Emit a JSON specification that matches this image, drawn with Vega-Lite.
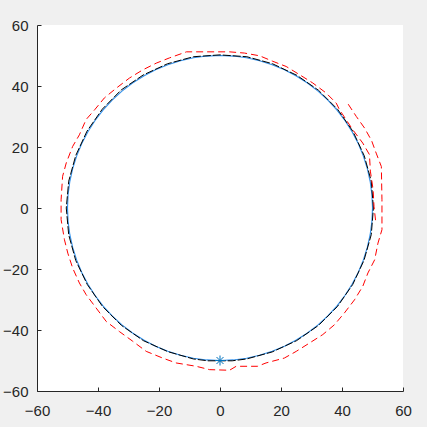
{
  "$schema": "https://vega.github.io/schema/vega-lite/v6.json",
  "width": 366,
  "height": 366,
  "autosize": {"type": "none"},
  "padding": {"left": 37, "top": 25, "right": 24, "bottom": 36},
  "background": "#f0f0f0",
  "config": {
    "view": {"fill": "white", "stroke": null},
    "axis": {
      "grid": false,
      "title": null,
      "domainColor": "#262626",
      "tickColor": "#262626",
      "labelColor": "#262626",
      "labelFont": "Liberation Sans",
      "labelFontSize": 15,
      "tickSize": -4,
      "domainWidth": 1,
      "tickWidth": 1,
      "labelFlush": false,
      "labelOverlap": false
    },
    "axisX": {"labelPadding": 16},
    "axisY": {"labelPadding": 13}
  },
  "datasets": {
    "circle": [
      {"i": 0, "x": 50, "y": 0}, {"i": 1, "x": 49.81, "y": 4.36}, {"i": 2, "x": 49.24, "y": 8.68}, {"i": 3, "x": 48.3, "y": 12.94},
      {"i": 4, "x": 46.98, "y": 17.1}, {"i": 5, "x": 45.32, "y": 21.13}, {"i": 6, "x": 43.3, "y": 25}, {"i": 7, "x": 40.96, "y": 28.68},
      {"i": 8, "x": 38.3, "y": 32.14}, {"i": 9, "x": 35.36, "y": 35.36}, {"i": 10, "x": 32.14, "y": 38.3}, {"i": 11, "x": 28.68, "y": 40.96},
      {"i": 12, "x": 25, "y": 43.3}, {"i": 13, "x": 21.13, "y": 45.32}, {"i": 14, "x": 17.1, "y": 46.98}, {"i": 15, "x": 12.94, "y": 48.3},
      {"i": 16, "x": 8.68, "y": 49.24}, {"i": 17, "x": 4.36, "y": 49.81}, {"i": 18, "x": 0, "y": 50},
      {"i": 19, "x": -4.36, "y": 49.81}, {"i": 20, "x": -8.68, "y": 49.24}, {"i": 21, "x": -12.94, "y": 48.3}, {"i": 22, "x": -17.1, "y": 46.98},
      {"i": 23, "x": -21.13, "y": 45.32}, {"i": 24, "x": -25, "y": 43.3}, {"i": 25, "x": -28.68, "y": 40.96}, {"i": 26, "x": -32.14, "y": 38.3},
      {"i": 27, "x": -35.36, "y": 35.36}, {"i": 28, "x": -38.3, "y": 32.14}, {"i": 29, "x": -40.96, "y": 28.68}, {"i": 30, "x": -43.3, "y": 25},
      {"i": 31, "x": -45.32, "y": 21.13}, {"i": 32, "x": -46.98, "y": 17.1}, {"i": 33, "x": -48.3, "y": 12.94}, {"i": 34, "x": -49.24, "y": 8.68},
      {"i": 35, "x": -49.81, "y": 4.36}, {"i": 36, "x": -50, "y": 0},
      {"i": 37, "x": -49.81, "y": -4.36}, {"i": 38, "x": -49.24, "y": -8.68}, {"i": 39, "x": -48.3, "y": -12.94}, {"i": 40, "x": -46.98, "y": -17.1},
      {"i": 41, "x": -45.32, "y": -21.13}, {"i": 42, "x": -43.3, "y": -25}, {"i": 43, "x": -40.96, "y": -28.68}, {"i": 44, "x": -38.3, "y": -32.14},
      {"i": 45, "x": -35.36, "y": -35.36}, {"i": 46, "x": -32.14, "y": -38.3}, {"i": 47, "x": -28.68, "y": -40.96}, {"i": 48, "x": -25, "y": -43.3},
      {"i": 49, "x": -21.13, "y": -45.32}, {"i": 50, "x": -17.1, "y": -46.98}, {"i": 51, "x": -12.94, "y": -48.3}, {"i": 52, "x": -8.68, "y": -49.24},
      {"i": 53, "x": -4.36, "y": -49.81}, {"i": 54, "x": 0, "y": -50},
      {"i": 55, "x": 4.36, "y": -49.81}, {"i": 56, "x": 8.68, "y": -49.24}, {"i": 57, "x": 12.94, "y": -48.3}, {"i": 58, "x": 17.1, "y": -46.98},
      {"i": 59, "x": 21.13, "y": -45.32}, {"i": 60, "x": 25, "y": -43.3}, {"i": 61, "x": 28.68, "y": -40.96}, {"i": 62, "x": 32.14, "y": -38.3},
      {"i": 63, "x": 35.36, "y": -35.36}, {"i": 64, "x": 38.3, "y": -32.14}, {"i": 65, "x": 40.96, "y": -28.68}, {"i": 66, "x": 43.3, "y": -25},
      {"i": 67, "x": 45.32, "y": -21.13}, {"i": 68, "x": 46.98, "y": -17.1}, {"i": 69, "x": 48.3, "y": -12.94}, {"i": 70, "x": 49.24, "y": -8.68},
      {"i": 71, "x": 49.81, "y": -4.36}, {"i": 72, "x": 50, "y": 0}
    ],
    "track": [
      {"i": 0, "x": 50.3, "y": 0}, {"i": 1, "x": 49.6, "y": 8.8}, {"i": 2, "x": 47.3, "y": 17.1}, {"i": 3, "x": 43.6, "y": 25.1},
      {"i": 4, "x": 38.6, "y": 32.3}, {"i": 5, "x": 32.3, "y": 38.6}, {"i": 6, "x": 25.2, "y": 43.5}, {"i": 7, "x": 17.2, "y": 47.3},
      {"i": 8, "x": 8.8, "y": 49.6}, {"i": 9, "x": 0, "y": 50.2}, {"i": 10, "x": -8.7, "y": 49.6}, {"i": 11, "x": -17.2, "y": 47.3},
      {"i": 12, "x": -25.2, "y": 43.6}, {"i": 13, "x": -32.4, "y": 38.7}, {"i": 14, "x": -38.6, "y": 32.4}, {"i": 15, "x": -43.6, "y": 25.2},
      {"i": 16, "x": -47.3, "y": 17.2}, {"i": 17, "x": -49.6, "y": 8.8}, {"i": 18, "x": -50.4, "y": 0}, {"i": 19, "x": -49.6, "y": -8.8},
      {"i": 20, "x": -47.3, "y": -17.2}, {"i": 21, "x": -43.5, "y": -25.1}, {"i": 22, "x": -38.5, "y": -32.3}, {"i": 23, "x": -32.3, "y": -38.5},
      {"i": 24, "x": -25.1, "y": -43.5}, {"i": 25, "x": -17.1, "y": -47.1}, {"i": 26, "x": -8.7, "y": -49.5}, {"i": 27, "x": -4, "y": -50.1},
      {"i": 28, "x": 4, "y": -50.1}, {"i": 29, "x": 8.7, "y": -49.5}, {"i": 30, "x": 17.1, "y": -47.2}, {"i": 31, "x": 25.1, "y": -43.5},
      {"i": 32, "x": 32.3, "y": -38.5}, {"i": 33, "x": 38.5, "y": -32.3}, {"i": 34, "x": 43.5, "y": -25.1}, {"i": 35, "x": 47.2, "y": -17.2},
      {"i": 36, "x": 49.6, "y": -8.7}, {"i": 37, "x": 50.3, "y": 0}
    ],
    "bound": [
      {"i": 0, "x": 51, "y": -4}, {"i": 1, "x": 50.5, "y": 0.4}, {"i": 2, "x": 50.2, "y": 6}, {"i": 3, "x": 49.3, "y": 12.1},
      {"i": 4, "x": 49, "y": 17.5}, {"i": 5, "x": 46.8, "y": 21.3}, {"i": 6, "x": 43.5, "y": 25.7}, {"i": 7, "x": 39.2, "y": 32.2},
      {"i": 8, "x": 38.1, "y": 34.4}, {"i": 9, "x": 34.8, "y": 37.7}, {"i": 10, "x": 30.4, "y": 41}, {"i": 11, "x": 26.1, "y": 43.7},
      {"i": 12, "x": 21.7, "y": 46.4}, {"i": 13, "x": 17.3, "y": 48.1}, {"i": 14, "x": 13, "y": 49.9}, {"i": 15, "x": 8, "y": 50.8},
      {"i": 16, "x": 3.1, "y": 51.2}, {"i": 17, "x": -11, "y": 51.2}, {"i": 18, "x": -16.6, "y": 49.2}, {"i": 19, "x": -20.9, "y": 47.5},
      {"i": 20, "x": -25.3, "y": 45.3}, {"i": 21, "x": -29.7, "y": 42.6}, {"i": 22, "x": -34, "y": 39.3}, {"i": 23, "x": -37.9, "y": 36.1},
      {"i": 24, "x": -41.1, "y": 32.2}, {"i": 25, "x": -43.9, "y": 29}, {"i": 26, "x": -46.1, "y": 24}, {"i": 27, "x": -48.3, "y": 20.2},
      {"i": 28, "x": -50.4, "y": 14.8}, {"i": 29, "x": -51.6, "y": 10.4}, {"i": 30, "x": -52.1, "y": 2.7}, {"i": 31, "x": -52.1, "y": -3.8},
      {"i": 32, "x": -51, "y": -10.4}, {"i": 33, "x": -49.9, "y": -14.8}, {"i": 34, "x": -48.3, "y": -19.7}, {"i": 35, "x": -46.1, "y": -24.6},
      {"i": 36, "x": -43.9, "y": -28.4}, {"i": 37, "x": -40.6, "y": -32.8}, {"i": 38, "x": -37.3, "y": -37.2}, {"i": 39, "x": -33, "y": -40.5},
      {"i": 40, "x": -28.6, "y": -43.7}, {"i": 41, "x": -24.2, "y": -47}, {"i": 42, "x": -18.8, "y": -49.2}, {"i": 43, "x": -14.4, "y": -50.8},
      {"i": 44, "x": -7.8, "y": -51.9}, {"i": 45, "x": -3.4, "y": -53}, {"i": 46, "x": 3.1, "y": -53.2}, {"i": 47, "x": 5.3, "y": -51.9},
      {"i": 48, "x": 12.3, "y": -51.9}, {"i": 49, "x": 15.1, "y": -50.8}, {"i": 50, "x": 21.1, "y": -49.2}, {"i": 51, "x": 25, "y": -47},
      {"i": 52, "x": 29.3, "y": -44.3}, {"i": 53, "x": 33.7, "y": -41.5}, {"i": 54, "x": 37.5, "y": -38.3}, {"i": 55, "x": 40.8, "y": -34.4},
      {"i": 56, "x": 44.1, "y": -30.1}, {"i": 57, "x": 46.8, "y": -25.7}, {"i": 58, "x": 48.5, "y": -21.3}, {"i": 59, "x": 50.7, "y": -17},
      {"i": 60, "x": 51.8, "y": -11.5}, {"i": 61, "x": 53.1, "y": -7.1}, {"i": 62, "x": 53.1, "y": 2.7}, {"i": 63, "x": 52.9, "y": 13.6},
      {"i": 64, "x": 51.2, "y": 18}, {"i": 65, "x": 49.7, "y": 22.1}, {"i": 66, "x": 47.4, "y": 26.2}, {"i": 67, "x": 44.7, "y": 30},
      {"i": 68, "x": 41.4, "y": 35}
    ],
    "start": [{"x": 0, "y": -50}]
  },
  "encoding": {
    "x": {"field": "x", "type": "quantitative", "scale": {"domain": [-60, 60], "nice": false, "zero": false}, "axis": {"values": [-60, -40, -20, 0, 20, 40, 60]}},
    "y": {"field": "y", "type": "quantitative", "scale": {"domain": [-60, 60], "nice": false, "zero": false}, "axis": {"values": [-60, -40, -20, 0, 20, 40, 60]}}
  },
  "layer": [
    {
      "data": {"name": "circle"},
      "mark": {"type": "line", "color": "#3392ec", "strokeWidth": 1.1},
      "encoding": {"order": {"field": "i", "type": "quantitative"}}
    },
    {
      "data": {"name": "track"},
      "mark": {"type": "line", "color": "#000000", "strokeWidth": 1, "strokeDash": [8, 2]},
      "encoding": {"order": {"field": "i", "type": "quantitative"}}
    },
    {
      "data": {"name": "bound"},
      "mark": {"type": "line", "color": "#ff0000", "strokeWidth": 1, "strokeDash": [7, 4]},
      "encoding": {"order": {"field": "i", "type": "quantitative"}}
    },
    {
      "data": {"name": "start"},
      "mark": {"type": "point", "shape": "M-1,0L1,0M0,-1L0,1M-0.7,-0.7L0.7,0.7M-0.7,0.7L0.7,-0.7", "filled": false, "color": "#0072bd", "strokeWidth": 1, "size": 100, "opacity": 1}
    }
  ]
}
